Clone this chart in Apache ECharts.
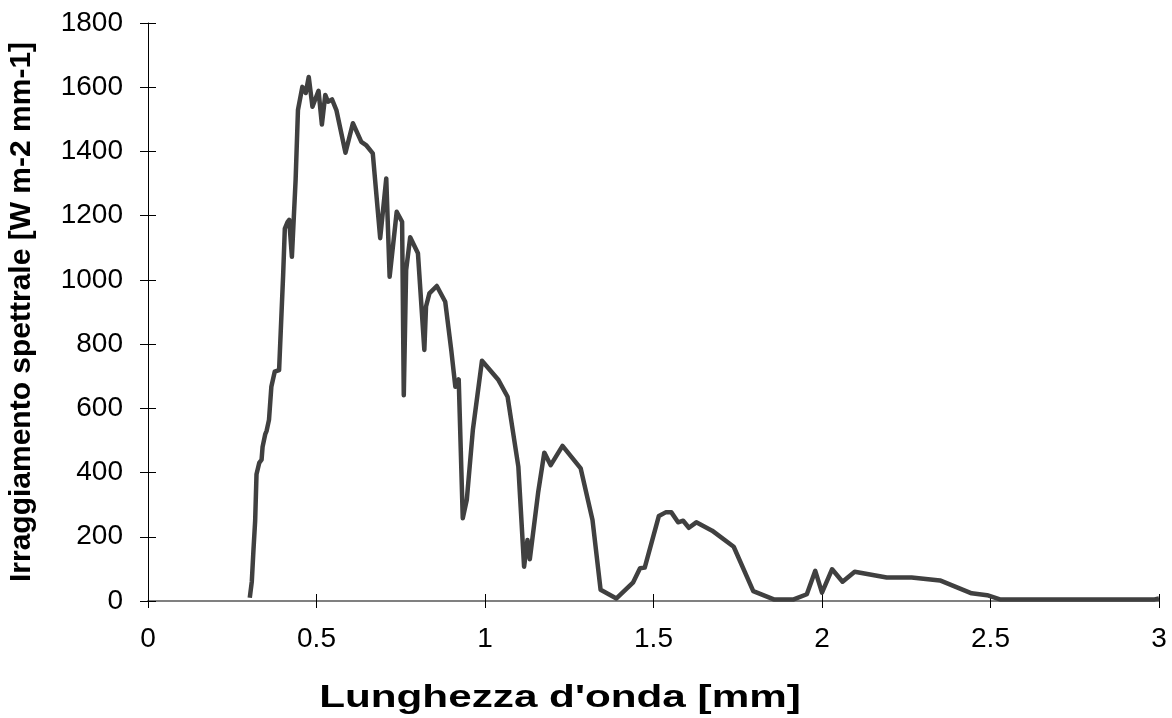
<!DOCTYPE html>
<html>
<head>
<meta charset="utf-8">
<script src="https://cdn.jsdelivr.net/npm/echarts@6/dist/echarts.min.js"></script>
<style>
html,body{margin:0;padding:0;background:#fff;}
#chart{width:1172px;height:718px;}
</style>
</head>
<body>
<div id="chart"></div>
<script>
// Wavelength [mm] and spectral irradiance [W m-2 mm-1]
const wavelength = [0.302,0.308,0.313,0.318,0.322,0.327,0.330,0.337,0.340,0.348,0.352,0.359,0.366,0.376,0.389,0.401,0.406,0.414,0.419,0.427,0.438,0.445,0.458,0.468,0.477,0.488,0.506,0.516,0.526,0.534,0.546,0.559,0.586,0.608,0.633,0.647,0.667,0.689,0.707,0.717,0.738,0.754,0.759,0.766,0.778,0.801,0.820,0.825,0.835,0.857,0.882,0.900,0.912,0.922,0.934,0.946,0.964,0.991,1.040,1.067,1.099,1.116,1.126,1.133,1.158,1.176,1.195,1.230,1.284,1.319,1.343,1.390,1.439,1.460,1.474,1.516,1.536,1.553,1.573,1.588,1.605,1.627,1.674,1.738,1.796,1.857,1.916,1.955,1.980,2.000,2.030,2.061,2.097,2.192,2.266,2.350,2.444,2.490,2.528,2.987,3.000];
const irradiance = [10,60,160,250,395,390,430,440,480,520,530,564,667,714,719,1015,1160,1180,1187,1072,1311,1529,1601,1582,1632,1539,1589,1484,1576,1555,1562,1529,1396,1488,1430,1420,1394,1130,1316,1010,1212,1181,641,1031,1133,1083,782,917,958,981,932,780,667,690,258,315,533,748,688,636,418,107,190,130,340,462,423,483,413,252,35,8,57,102,104,265,276,276,245,250,228,245,219,169,31,5,5,21,94,26,99,60,91,73,73,64,24,18,5,5,8];
const xTicks = [0,0.5,1,1.5,2,2.5,3];
const yTicks = [0,200,400,600,800,1000,1200,1400,1600,1800];
const xTitle = "Lunghezza d'onda [mm]";
const yTitle = "Irraggiamento spettrale [W m-2 mm-1]";

const points = wavelength.map((w, i) => [w, irradiance[i]]);
const FONT = "'Liberation Sans', Arial, sans-serif";

const chart = echarts.init(document.getElementById('chart'), null, {renderer: 'canvas'});
const baseX = {
  type: 'value', min: xTicks[0], max: xTicks[xTicks.length - 1], interval: 0.5,
  splitLine: {show: false}
};
const baseY = {
  type: 'value', min: yTicks[0], max: yTicks[yTicks.length - 1], interval: 200,
  splitLine: {show: false}
};
chart.setOption({
  backgroundColor: '#ffffff',
  animation: false,
  grid: {left: 148, right: 13, top: 23, bottom: 117, containLabel: false},
  xAxis: [
    Object.assign({}, baseX, {
      axisLine: {show: true, onZero: false, lineStyle: {color: '#808080', width: 2}},
      axisTick: {show: true, inside: false, length: 7, lineStyle: {color: '#000', width: 1}},
      axisLabel: {show: true, margin: 24, fontSize: 28, color: '#000', fontFamily: FONT,
        formatter: v => String(v)}
    }),
    Object.assign({}, baseX, {
      position: 'bottom',
      axisLine: {show: false, onZero: false},
      axisTick: {show: true, inside: true, length: 7, lineStyle: {color: '#000', width: 1}},
      axisLabel: {show: false}
    })
  ],
  yAxis: [
    Object.assign({}, baseY, {
      axisLine: {show: true, onZero: false, lineStyle: {color: '#000', width: 1}},
      axisTick: {show: true, inside: false, length: 8, lineStyle: {color: '#000', width: 1}},
      axisLabel: {show: true, margin: 25, fontSize: 28, color: '#000', fontFamily: FONT,
        formatter: v => String(v)}
    }),
    Object.assign({}, baseY, {
      position: 'left',
      axisLine: {show: false, onZero: false},
      axisTick: {show: true, inside: true, length: 8, lineStyle: {color: '#000', width: 1}},
      axisLabel: {show: false}
    })
  ],
  graphic: [
    {
      type: 'text', x: 560, y: 682, scaleX: 1.32,
      style: {text: xTitle, font: "bold 32px " + FONT, fill: '#000', align: 'center', verticalAlign: 'top'}
    },
    {
      type: 'text', rotation: Math.PI / 2, x: 7, y: 312,
      style: {text: yTitle, font: "bold 30px " + FONT, fill: '#000', align: 'center', verticalAlign: 'top'}
    }
  ],
  series: [{
    type: 'line', xAxisIndex: 0, yAxisIndex: 0,
    data: points, showSymbol: false, symbol: 'none', smooth: false,
    lineStyle: {color: '#404040', width: 4.5, join: 'round'},
    z: 3
  }]
});
</script>
</body>
</html>
